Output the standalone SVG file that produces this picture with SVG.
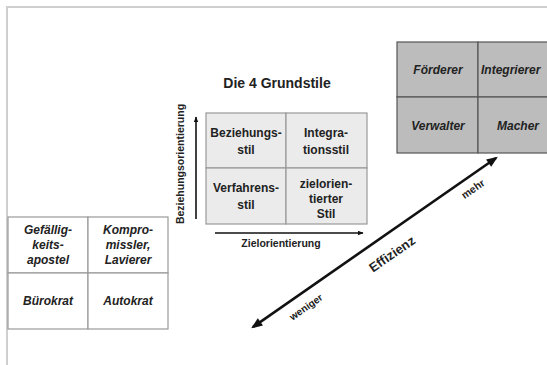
<svg xmlns="http://www.w3.org/2000/svg" width="547" height="365" viewBox="0 0 547 365">
<style>
text{font-family:"Liberation Sans",Arial,sans-serif;font-weight:bold;fill:#222;text-anchor:middle}
.it{font-style:italic;font-size:12px}
.mt{font-size:12px}
.ax{font-size:10.5px}
.cellL{fill:#fff;stroke:#999;stroke-width:1.2}
.cellM{fill:#ebebeb;stroke:#999;stroke-width:1.2}
.cellR{fill:#bcbcbc;stroke:#555;stroke-width:1.2}
.arr{stroke:#111;stroke-width:1.6;fill:none}
.diag{stroke:#111;stroke-width:2.6;fill:none}
</style>
<defs>
<marker id="ah" viewBox="0 0 10 8" refX="9" refY="4" markerWidth="6" markerHeight="5" orient="auto-start-reverse" markerUnits="userSpaceOnUse">
<path d="M0,0 L10,4 L0,8 z" fill="#111"/>
</marker>
<marker id="ah2" viewBox="0 0 10 8" refX="8" refY="4" markerWidth="12" markerHeight="9" orient="auto-start-reverse" markerUnits="userSpaceOnUse">
<path d="M0,0 L10,4 L0,8 z" fill="#111"/>
</marker>
</defs>
<rect width="547" height="365" fill="#fff"/>
<g id="frame">
<path d="M7,365 V7 H547" fill="none" stroke="#cfcfcf" stroke-width="2"/>
</g>
<g id="title"><text x="277" y="88" font-size="14">Die 4 Grundstile</text></g>

<g id="left-table">
<rect class="cellL" x="8" y="217" width="80" height="56"/>
<rect class="cellL" x="88" y="217" width="80" height="56"/>
<rect class="cellL" x="8" y="273" width="80" height="56"/>
<rect class="cellL" x="88" y="273" width="80" height="56"/>
<text class="it" x="48" y="234">Gefällig-</text>
<text class="it" x="48" y="249">keits-</text>
<text class="it" x="48" y="264">apostel</text>
<text class="it" x="128" y="234">Kompro-</text>
<text class="it" x="128" y="249">missler,</text>
<text class="it" x="128" y="264">Lavierer</text>
<text class="it" x="48" y="305">Bürokrat</text>
<text class="it" x="128" y="305">Autokrat</text>
</g>

<g id="mid-table">
<rect class="cellM" x="206" y="113" width="80" height="55"/>
<rect class="cellM" x="286" y="113" width="81" height="55"/>
<rect class="cellM" x="206" y="168" width="80" height="56"/>
<rect class="cellM" x="286" y="168" width="81" height="56"/>
<text class="mt" x="246" y="137">Beziehungs-</text>
<text class="mt" x="246" y="154">stil</text>
<text class="mt" x="326" y="137">Integra-</text>
<text class="mt" x="326" y="154">tionsstil</text>
<text class="mt" x="246" y="192">Verfahrens-</text>
<text class="mt" x="246" y="209">stil</text>
<text class="mt" x="326" y="188">zielorien-</text>
<text class="mt" x="326" y="203">tierter</text>
<text class="mt" x="326" y="218">Stil</text>
</g>

<g id="right-table">
<rect class="cellR" x="397" y="42" width="81" height="55"/>
<rect class="cellR" x="478" y="42" width="81" height="55"/>
<rect class="cellR" x="397" y="97" width="81" height="56"/>
<rect class="cellR" x="478" y="97" width="81" height="56"/>
<text class="it" x="438" y="74">Förderer</text>
<text class="it" x="481" y="74" style="text-anchor:start">Integrierer</text>
<text class="it" x="438" y="130">Verwalter</text>
<text class="it" x="518" y="130">Macher</text>
</g>

<g id="connectors">
<line class="arr" x1="196" y1="219" x2="196" y2="117" marker-end="url(#ah)"/>
<line class="arr" x1="215" y1="233" x2="363" y2="233" marker-end="url(#ah)"/>
<line class="diag" x1="253" y1="327" x2="496" y2="158" marker-start="url(#ah2)" marker-end="url(#ah2)"/>
</g>

<g id="labels">
<text class="ax" x="0" y="0" transform="translate(184,164) rotate(-90)">Beziehungsorientierung</text>
<text class="ax" x="281" y="247">Zielorientierung</text>
<text font-size="13" x="0" y="0" transform="translate(392,254) rotate(-34.8) translate(0,4.5)">Effizienz</text>
<text font-size="10" x="0" y="0" transform="translate(306,307) rotate(-34.8) translate(0,3.5)">weniger</text>
<text font-size="10.5" x="0" y="0" transform="translate(473,189) rotate(-34.8) translate(0,3.5)">mehr</text>
</g>
</svg>
